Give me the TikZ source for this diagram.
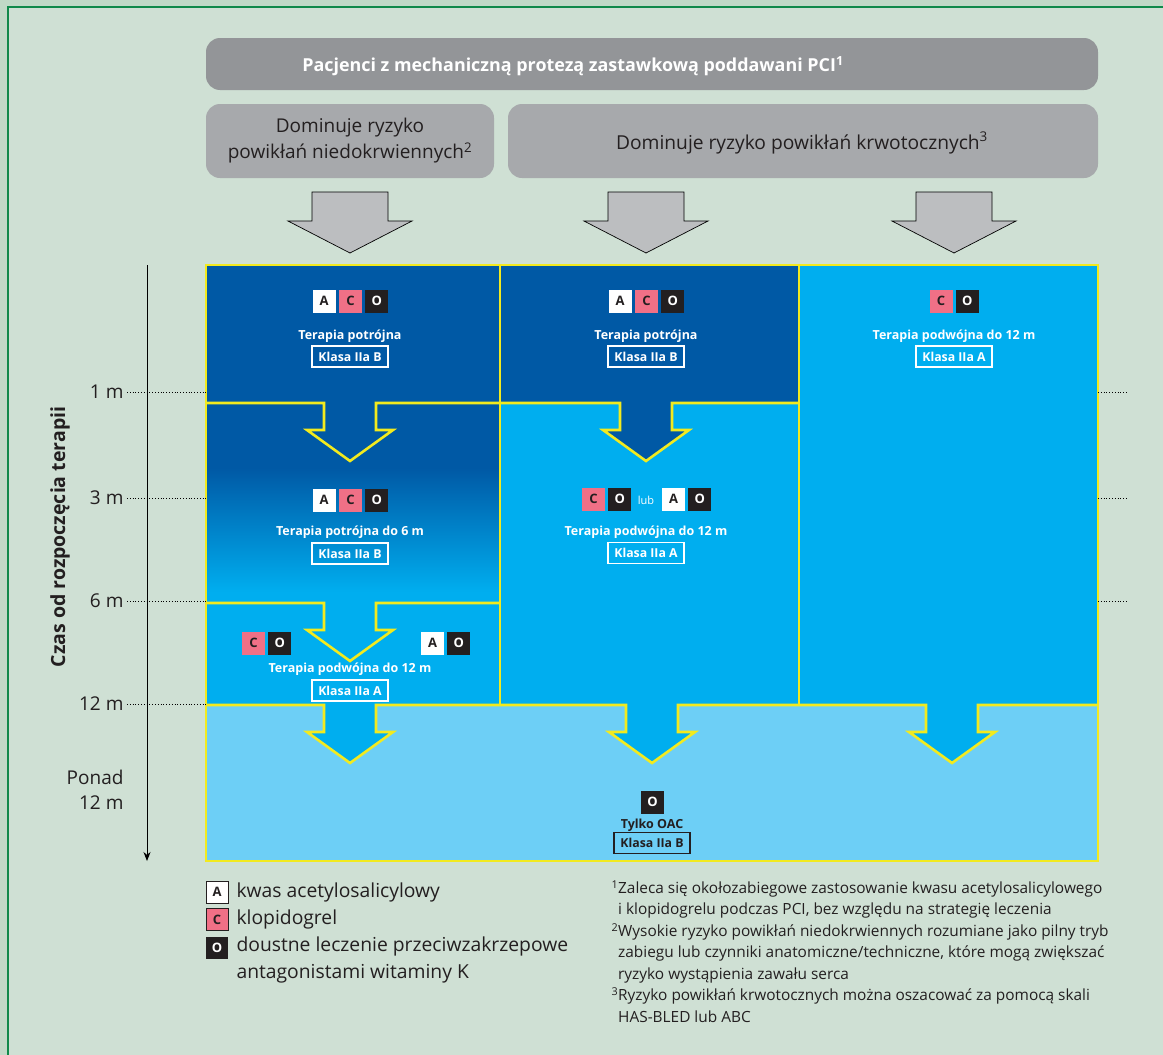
\documentclass[tikz,border=0pt]{standalone}
\usepackage{fontspec}
\setmainfont{Open Sans}
\usetikzlibrary{arrows.meta, positioning}

\definecolor{outerbg}{HTML}{C1D9C7}
\definecolor{innerbg}{HTML}{CFE0D4}
\definecolor{framegreen}{HTML}{10894A}
\definecolor{hdrgrey}{HTML}{939598}
\definecolor{subgrey}{HTML}{A7A9AC}
\definecolor{arrowgrey}{HTML}{BCBEC0}
\definecolor{dkblue}{HTML}{0059A5}
\definecolor{midblue}{HTML}{00AEEF}
\definecolor{ltblue}{HTML}{6DCFF6}
\definecolor{ylw}{HTML}{F2EA1F}
\definecolor{pinkc}{HTML}{F07086}
\definecolor{ink}{HTML}{231F20}

\newcommand{\arrownotch}[2]{-- (#1-26,#2) -- (#1-26,#2+27) -- (#1-43,#2+27) -- (#1,#2+58) -- (#1+43,#2+27) -- (#1+26,#2+27) -- (#1+26,#2)}
\newcommand{\greyarrow}[2]{\filldraw[garrow] (#1-38,#2) -- (#1-38,#2+29) -- (#1-62,#2+29) -- (#1,#2+61) -- (#1+62,#2+29) -- (#1+38,#2+29) -- (#1+38,#2) -- cycle;}

\begin{document}
\begin{tikzpicture}[x=1pt, y=-1pt,
  garrow/.style={fill=arrowgrey, draw=black, line width=0.7pt},
  yline/.style={draw=ylw, line width=2.6pt, line join=miter},
  hdr/.style={rounded corners=14pt, inner sep=0pt},
  badge/.style={minimum size=23pt, inner sep=0pt, font=\fontsize{13}{13}\selectfont\bfseries},
  ba/.style={badge, fill=white, text=ink},
  bc/.style={badge, fill=pinkc, text=ink},
  bo/.style={badge, fill=ink, text=white},
  ther/.style={font=\fontsize{12.5}{12}\selectfont\bfseries, text=white},
  klasa/.style={draw=white, line width=1.1pt, minimum width=76pt, minimum height=21pt, inner sep=0pt, font=\fontsize{12.3}{12}\selectfont\bfseries, text=white},
  tick/.style={font=\fontsize{19}{25}\selectfont, text=ink, anchor=east, align=right},
  guide/.style={dotted, line width=0.8pt},
  legend/.style={font=\fontsize{19.3}{27}\selectfont, text=ink, anchor=west, align=left},
  node distance=3pt]

\useasboundingbox (0,0) rectangle (1163,1055);
\fill[outerbg] (0,0) rectangle (1163,1055);
\filldraw[fill=innerbg, draw=framegreen, line width=2.5pt] (8,7) rectangle (1180,1070);

\node[hdr, fill=hdrgrey, minimum width=892pt, minimum height=52pt] (pat) at (652,64) {};
\node[font=\fontsize{17.9}{17}\selectfont\bfseries, text=white] (patt) at (573,66) {Pacjenci z mechaniczną protezą zastawkową poddawani PCI\textsuperscript{1}};
\node[hdr, fill=subgrey, minimum width=288pt, minimum height=74pt, align=center, font=\fontsize{19}{26}\selectfont, text=ink] (isch) at (350,141) {Dominuje ryzyko\\powikłań niedokrwiennych\textsuperscript{2}};
\node[hdr, fill=subgrey, minimum width=590pt, minimum height=74pt] (blee) at (803,141) {};
\node[font=\fontsize{19.2}{26}\selectfont, text=ink] (bleet) at (802,143) {Dominuje ryzyko powikłań krwotocznych\textsuperscript{3}};

\greyarrow{350}{192}
\greyarrow{646}{192}
\greyarrow{954}{192}

\fill[dkblue] (206,265) rectangle (500,468);
\shade[top color=dkblue, bottom color=midblue] (206,468) rectangle (500,592);
\fill[midblue] (206,592) rectangle (500,705);
\fill[dkblue] (500,265) rectangle (799,403);
\fill[midblue] (500,403) rectangle (799,705);
\fill[midblue] (799,265) rectangle (1098,705);
\fill[ltblue] (206,705) rectangle (1098,861);

\fill[dkblue] (350-26,403) \arrownotch{350}{403} -- cycle;
\fill[dkblue] (646-26,403) \arrownotch{646}{403} -- cycle;
\fill[midblue] (350-26,603) \arrownotch{350}{603} -- cycle;
\fill[midblue] (350-26,705) \arrownotch{350}{705} -- cycle;
\fill[midblue] (652-26,705) \arrownotch{652}{705} -- cycle;
\fill[midblue] (952-26,705) \arrownotch{952}{705} -- cycle;

\draw[yline] (500,265) -- (500,705);
\draw[yline] (799,265) -- (799,705);
\draw[yline] (206,403) \arrownotch{350}{403} \arrownotch{646}{403} -- (799,403);
\draw[yline] (206,603) \arrownotch{350}{603} -- (500,603);
\draw[yline] (206,705) \arrownotch{350}{705} \arrownotch{652}{705} \arrownotch{952}{705} -- (1098,705);
\draw[yline] (206,265) rectangle (1098,861);

\node[ba] (a1) at (324,301) {A};
\node[bc, right=of a1] (c1) {C};
\node[bo, right=of c1] (o1) {O};
\node[ther] (th1) at (350,336) {Terapia potrójna};
\node[klasa] (k1) at (350,356.5) {Klasa IIa B};

\node[ba] (a2) at (620,301) {A};
\node[bc, right=of a2] (c2) {C};
\node[bo, right=of c2] (o2) {O};
\node[ther] (th2) at (646,336) {Terapia potrójna};
\node[klasa] (k2) at (646,356.5) {Klasa IIa B};

\node[bc] (c3) at (941,301) {C};
\node[bo, right=of c3] (o3) {O};
\node[ther] (th3) at (954,336) {Terapia podwójna do 12 m};
\node[klasa] (k3) at (954,356.5) {Klasa IIa A};

\node[ba] (a4) at (324,500) {A};
\node[bc, right=of a4] (c4) {C};
\node[bo, right=of c4] (o4) {O};
\node[ther] (th4) at (350,532) {Terapia potrójna do 6 m};
\node[klasa] (k4) at (350,553.5) {Klasa IIa B};

\node[bc] (c5) at (253.5,643) {C};
\node[bo, right=of c5] (o5) {O};
\node[ba] (a6) at (432.5,643) {A};
\node[bo, right=of a6] (o6) {O};
\node[ther] (th5) at (350,669) {Terapia podwójna do 12 m};
\node[klasa] (k5) at (350,690.5) {Klasa IIa A};

\node[bc] (c7) at (593.5,499) {C};
\node[bo, right=of c7] (o7) {O};
\node[font=\fontsize{11}{10}\selectfont, text=white] (lub) at (646,500) {lub};
\node[ba] (a8) at (673.5,499) {A};
\node[bo, right=of a8] (o8) {O};
\node[ther] (th7) at (646,532) {Terapia podwójna do 12 m};
\node[klasa] (k7) at (646,553) {Klasa IIa A};

\node[bo] (o9) at (652.5,802) {O};
\node[ther, text=ink] (th9) at (652,825) {Tylko OAC};
\node[klasa, draw=ink, text=ink] (k9) at (652,843) {Klasa IIa B};

\draw[-{Stealth[length=9pt, width=7pt]}, line width=0.9pt] (147,265) -- (147,861);
\node[rotate=90, font=\fontsize{19.5}{17}\selectfont\bfseries, text=ink] (axl) at (60,537) {Czas od rozpoczęcia terapii};
\node[tick] (t1) at (127,392) {1 m};
\node[tick] (t3) at (127,498) {3 m};
\node[tick] (t6) at (127,601) {6 m};
\node[tick] (t12) at (127,704) {12 m};
\node[tick] (tp) at (127,790) {Ponad\\12 m};
\draw[guide] (t1.east) -- (206,392);
\draw[guide] (t3.east) -- (206,498);
\draw[guide] (t6.east) -- (206,601);
\draw[guide] (t12.east) -- (206,704);
\draw[guide] (1098,392) -- (1127,392);
\draw[guide] (1098,498) -- (1127,498);
\draw[guide] (1098,601) -- (1127,601);

\node[ba, draw=ink, line width=0.8pt, minimum size=22pt] (la) at (217,892) {A};
\node[bc, draw=ink, line width=0.8pt, minimum size=22pt] (lc) at (217,919.5) {C};
\node[bo, minimum size=22pt] (lo) at (217,948) {O};
\node[legend] (lat) at (233,892) {kwas acetylosalicylowy};
\node[legend] (lct) at (233,919) {klopidogrel};
\node[legend] (lot) at (233,959.5) {doustne leczenie przeciwzakrzepowe\\antagonistami witaminy K};

\node[anchor=north west, align=left, font=\fontsize{15.4}{21.5}\selectfont, text=ink] (notes) at (608,877) {%
\textsuperscript{1}Zaleca się okołozabiegowe zastosowanie kwasu acetylosalicylowego\\
\hphantom{\textsuperscript{1}}i klopidogrelu podczas PCI, bez względu na strategię leczenia\\
\textsuperscript{2}Wysokie ryzyko powikłań niedokrwiennych rozumiane jako pilny tryb\\
\hphantom{\textsuperscript{2}}zabiegu lub czynniki anatomiczne/techniczne, które mogą zwiększać\\
\hphantom{\textsuperscript{2}}ryzyko wystąpienia zawału serca\\
\textsuperscript{3}Ryzyko powikłań krwotocznych można oszacować za pomocą skali\\
\hphantom{\textsuperscript{3}}HAS-BLED lub ABC};
\end{tikzpicture}
\end{document}
